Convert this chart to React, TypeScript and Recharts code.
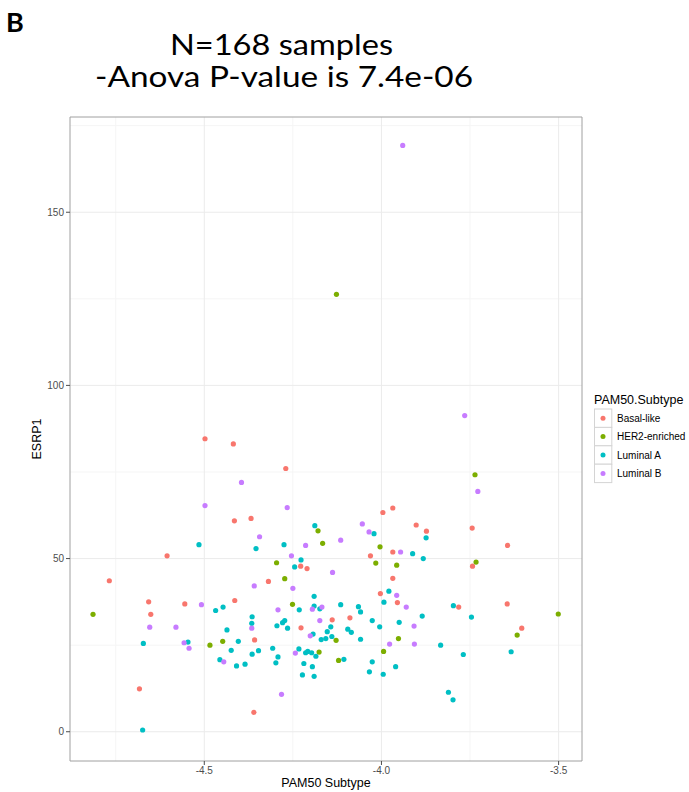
import {
  ScatterChart, Scatter, XAxis, YAxis, CartesianGrid, ReferenceArea, Label,
} from 'recharts'

// [PAM50 subtype score, ESRP1]
const basalLike = [
  [-4.498, 84.6], [-4.418, 83.1], [-4.415, 60.9], [-4.605, 50.8], [-4.768, 43.6],
  [-4.270, 76.0], [-4.368, 61.6], [-3.996, 63.3], [-3.968, 64.6], [-4.228, 47.8],
  [-4.210, 47.1], [-4.031, 50.8], [-3.968, 51.9], [-3.968, 44.3], [-4.319, 43.4],
  [-4.003, 39.9], [-4.414, 37.9], [-3.902, 59.7], [-3.873, 57.9], [-3.744, 58.8],
  [-3.644, 53.8], [-3.743, 47.8], [-4.657, 37.5], [-4.651, 33.9], [-4.555, 36.9],
  [-4.683, 12.4], [-3.955, 37.3], [-4.227, 30.0], [-4.139, 32.3], [-4.089, 32.9],
  [-4.358, 26.5], [-4.360, 5.6], [-3.782, 36.0], [-3.645, 36.9], [-3.604, 29.9],
]

const her2Enriched = [
  [-4.127, 126.3], [-4.179, 58.0], [-4.166, 54.4], [-4.004, 53.4], [-4.296, 48.8],
  [-4.016, 48.7], [-3.957, 48.1], [-4.273, 44.2], [-3.736, 74.2], [-3.733, 49.0],
  [-4.814, 33.9], [-4.484, 25.0], [-4.448, 26.1], [-4.251, 36.8], [-4.176, 23.0],
  [-4.128, 26.4], [-4.121, 20.6], [-3.994, 23.2], [-3.952, 26.9], [-3.617, 27.9],
  [-3.501, 34.0],
]

const luminalA = [
  [-4.515, 54.0], [-4.188, 59.5], [-4.021, 57.2], [-4.354, 52.9], [-4.275, 54.0],
  [-4.227, 49.6], [-4.245, 47.6], [-4.190, 39.1], [-3.979, 40.6], [-3.912, 51.4],
  [-3.882, 50.0], [-3.874, 56.0], [-4.468, 35.0], [-4.447, 36.0], [-4.436, 29.4],
  [-4.672, 25.5], [-4.546, 25.9], [-4.404, 26.1], [-4.424, 23.5], [-4.456, 20.8],
  [-4.409, 19.0], [-4.674, 0.5], [-3.993, 37.4], [-4.190, 36.3], [-4.174, 35.5],
  [-4.232, 35.2], [-4.115, 36.7], [-4.065, 36.1], [-4.059, 34.6], [-4.365, 33.2],
  [-4.366, 31.3], [-4.295, 30.6], [-4.279, 31.5], [-4.273, 32.1], [-4.265, 29.9],
  [-4.143, 30.3], [-4.095, 29.6], [-4.085, 28.7], [-4.026, 32.1], [-4.005, 30.3],
  [-3.950, 31.6], [-4.347, 23.4], [-4.365, 22.4], [-4.385, 19.5], [-4.307, 24.1],
  [-4.292, 21.6], [-4.298, 19.9], [-4.233, 23.9], [-4.214, 22.8], [-4.208, 23.2],
  [-4.197, 22.8], [-4.185, 21.8], [-4.219, 19.7], [-4.195, 18.8], [-4.223, 16.4],
  [-4.190, 16.0], [-4.193, 28.2], [-4.170, 26.6], [-4.157, 26.9], [-4.153, 28.9],
  [-4.140, 27.5], [-4.106, 20.9], [-4.059, 26.7], [-4.026, 20.2], [-4.034, 17.3],
  [-3.995, 16.6], [-3.960, 18.8], [-3.885, 33.4], [-3.797, 36.4], [-3.746, 33.1],
  [-3.833, 25.0], [-3.769, 22.3], [-3.811, 11.4], [-3.798, 9.2], [-3.634, 23.1],
]

const luminalB = [
  [-3.940, 169.3], [-4.395, 72.0], [-4.498, 65.3], [-4.266, 64.7], [-4.344, 56.3],
  [-4.054, 60.0], [-4.035, 57.7], [-4.214, 53.8], [-4.115, 55.3], [-4.254, 50.8],
  [-4.138, 46.0], [-3.946, 51.9], [-4.359, 42.1], [-4.250, 41.4], [-3.957, 39.4],
  [-3.765, 91.3], [-3.728, 69.4], [-4.508, 36.7], [-4.654, 30.2], [-4.580, 30.2],
  [-4.557, 25.7], [-4.543, 24.1], [-4.445, 20.2], [-3.930, 36.0], [-4.195, 35.4],
  [-4.168, 36.0], [-4.292, 35.2], [-4.366, 29.9], [-4.174, 32.1], [-4.243, 22.7],
  [-4.201, 27.7], [-3.977, 25.3], [-4.282, 10.8], [-3.908, 30.5], [-3.907, 25.3],
]

const subtypes = ['Basal-like', 'HER2-enriched', 'Luminal A', 'Luminal B']
const subtypeColors = ['#F8766D', '#7CAE00', '#00BFC4', '#C77CFF']
const subtypePoints = [basalLike, her2Enriched, luminalA, luminalB]

const xTicks = [-4.5, -4.0, -3.5]
const yTicks = [0, 50, 100, 150]
const xMinor = [-4.75, -4.25, -3.75]
const yMinor = [25, 75, 125, 175]
const xDomain = [-4.879, -3.434]
const yDomain = [-8.45, 177.5]

const font = '"Liberation Sans", Arial, sans-serif'
const titleFont = 'Lato, sans-serif'
const tickStyle = { fontSize: 10, fill: '#4d4d4d', fontFamily: font }

const Dot = (props: any) => (
  <circle cx={props.cx} cy={props.cy} r={2.6} fill={props.fill} />
)

export default function App() {
  const series = subtypes.map((name, i) => ({
    name,
    color: subtypeColors[i],
    data: subtypePoints[i].map(([x, y]) => ({ x, y })),
  }))

  return (
    <div style={{ position: 'absolute', left: 0, top: 0, width: 689, height: 792, background: '#fff' }}>
      <ScatterChart width={689} height={792} margin={{ top: 117, right: 107, bottom: 0, left: 0 }}>
        <CartesianGrid stroke="#f5f5f5" horizontalValues={yMinor} verticalValues={xMinor} />
        <CartesianGrid stroke="#ebebeb" horizontalValues={yTicks} verticalValues={xTicks} />
        <XAxis
          type="number"
          dataKey="x"
          domain={xDomain}
          ticks={xTicks}
          allowDataOverflow
          height={31}
          tickSize={4}
          tickFormatter={(v: number) => v.toFixed(1)}
          tick={tickStyle}
          tickLine={{ stroke: '#4d4d4d' }}
          axisLine={false}
        >
          <Label
            value="PAM50 Subtype"
            position="insideBottom"
            offset={5}
            style={{ fontSize: 12.5, fill: '#000', fontFamily: font }}
          />
        </XAxis>
        <YAxis
          type="number"
          dataKey="y"
          domain={yDomain}
          ticks={yTicks}
          allowDataOverflow
          width={70}
          tickSize={4}
          tick={tickStyle}
          tickLine={{ stroke: '#4d4d4d' }}
          axisLine={false}
        >
          <Label
            value="ESRP1"
            angle={-90}
            position="center"
            dx={2}
            style={{ fontSize: 12.5, fill: '#000', fontFamily: font, textAnchor: 'middle' }}
          />
        </YAxis>
        <ReferenceArea
          x1={xDomain[0]}
          x2={xDomain[1]}
          y1={yDomain[0]}
          y2={yDomain[1]}
          fill="none"
          stroke="#a0a0a0"
          strokeWidth={1}
        />
        {series.map(s => (
          <Scatter
            key={s.name}
            name={s.name}
            data={s.data}
            fill={s.color}
            shape={Dot}
            isAnimationActive={false}
          />
        ))}
      </ScatterChart>

      <svg
        width={689}
        height={792}
        style={{ position: 'absolute', left: 0, top: 0, pointerEvents: 'none' }}
      >
        <text x={6} y={32} fontSize={27} fontWeight={700} fontFamily={titleFont}>B</text>
        <text x={170} y={55} fontSize={28} textLength={223} lengthAdjust="spacingAndGlyphs" fontFamily={titleFont}>
          N=168 samples
        </text>
        <text x={95} y={87} fontSize={28} textLength={378} lengthAdjust="spacingAndGlyphs" fontFamily={titleFont}>
          -Anova P-value is 7.4e-06
        </text>

        <text x={594} y={404} fontSize={12.5} fontFamily={font}>PAM50.Subtype</text>
        {series.map((s, i) => {
          const top = 409 + i * 18.4
          return (
            <g key={s.name}>
              <rect x={594.5} y={top} width={17.3} height={18.4} fill="#ffffff" stroke="#d4d4d4" />
              <circle cx={603} cy={top + 9.2} r={2.5} fill={s.color} />
              <text x={617} y={top + 12.8} fontSize={10} fill="#000" fontFamily={font}>
                {s.name}
              </text>
            </g>
          )
        })}
      </svg>
    </div>
  )
}
